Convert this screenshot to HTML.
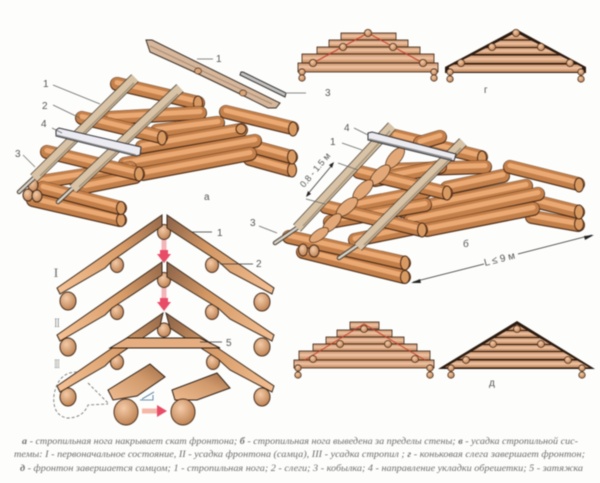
<!DOCTYPE html>
<html><head><meta charset="utf-8">
<style>
html,body{margin:0;padding:0;background:#fdfdfb;width:600px;height:483px;overflow:hidden}
svg{display:block;filter:blur(.5px)}
.L path{fill:none;stroke-linecap:round}
.L path:nth-child(1){stroke:#4a2a16;stroke-width:14}
.L path:nth-child(2){stroke:#c4804a;stroke-width:12.5;transform:translateY(-.4px)}
.L path:nth-child(3){stroke:#eba973;stroke-width:5;transform:translateY(-1.5px)}
.L ellipse{fill:#d99a62;stroke:#4a2a16;stroke-width:1}
.t{font:10px "Liberation Sans",sans-serif;fill:#555}
.ln{stroke:#666;stroke-width:.7;fill:none}
.r1{stroke:#4a4032;stroke-width:10.5;fill:none}
.r2{stroke:#d9c3a6;stroke-width:9;fill:none}
.r3{stroke:#a8967c;stroke-width:1.6;fill:none}
.th{stroke:#4a4238;stroke-width:4.5;fill:none;stroke-linecap:round}
.th2{stroke:#d8d2c6;stroke-width:2.4;fill:none;stroke-linecap:round}
.bar{fill:url(#bg);stroke:#3a2414;stroke-width:.8}
.bn{fill:url(#bg)}
.c{fill:url(#cg);stroke:#4a2e1c;stroke-width:.8}
.ct{fill:url(#cg);stroke:#4a3020;stroke-width:1}
.rL{fill:url(#rl);stroke:#3a2a1c;stroke-width:1}
.rR{fill:url(#rr);stroke:#3a2a1c;stroke-width:1}
.cap{font:italic 9px "Liberation Serif","Noto Serif CJK SC",serif;fill:#6e6e6e}
.rom{font:13px "Liberation Serif",serif;fill:#777}
</style></head><body>
<svg width="600" height="483" viewBox="0 0 600 483" xmlns="http://www.w3.org/2000/svg">
<defs>
<linearGradient id="bg" x1="0" y1="0" x2="0" y2="1"><stop offset="0" stop-color="#c48e68"/><stop offset=".45" stop-color="#f0c4a4"/><stop offset="1" stop-color="#bf8458"/></linearGradient>
<radialGradient id="cg" cx=".4" cy=".35" r=".8"><stop offset="0" stop-color="#f4cba8"/><stop offset="1" stop-color="#b47442"/></radialGradient>
<linearGradient id="rl" gradientUnits="userSpaceOnUse" x1="162" y1="215" x2="57" y2="288"><stop offset="0" stop-color="#96694a"/><stop offset=".4" stop-color="#d89c68"/><stop offset="1" stop-color="#f4c094"/></linearGradient>
<linearGradient id="rr" gradientUnits="userSpaceOnUse" x1="167" y1="215" x2="274" y2="288"><stop offset="0" stop-color="#8a6248"/><stop offset=".4" stop-color="#d49864"/><stop offset="1" stop-color="#f2be92"/></linearGradient>
<linearGradient id="p1" x1="0" y1="1" x2="1" y2="0"><stop offset="0" stop-color="#efbb90"/><stop offset=".6" stop-color="#d09a6c"/><stop offset="1" stop-color="#a06c46"/></linearGradient>
<clipPath id="tr1"><polygon points="516,32.5 449,67 449,73 582,73 582,67"/></clipPath>
<clipPath id="tr2"><polygon points="517,324.5 444,368 590,368"/></clipPath>
</defs>

<!-- Diagram a logs -->
<g class="L"><path d="M117 84L198 103"/><path d="M117 84L198 103"/><path d="M117 84L198 103"/><ellipse cx="198" cy="103" rx="4.5" ry="7"/></g>
<g class="L"><path d="M110 118L200 113"/><path d="M110 118L200 113"/><path d="M110 118L200 113"/></g>
<g class="L"><path d="M157 131L218 123"/><path d="M157 131L218 123"/><path d="M157 131L218 123"/></g>
<g class="L"><path d="M142 147L241 130"/><path d="M142 147L241 130"/><path d="M142 147L241 130"/><ellipse cx="241" cy="129" rx="5" ry="5"/></g>
<g class="L"><path d="M226 112L292 128"/><path d="M226 112L292 128"/><path d="M226 112L292 128"/><ellipse cx="293" cy="129" rx="4.5" ry="7"/></g>
<g class="L"><path d="M250 159L290 170"/><path d="M250 159L290 170"/><path d="M250 159L290 170"/><ellipse cx="292" cy="170" rx="4.5" ry="7"/></g>
<g class="L"><path d="M254 147L291 157"/><path d="M254 147L291 157"/><path d="M254 147L291 157"/><ellipse cx="292" cy="157" rx="4.5" ry="7"/></g>
<g class="L"><path d="M125 164L255 141"/><path d="M125 164L255 141"/><path d="M125 164L255 141"/></g>
<g class="L"><path d="M143 174L250 154"/><path d="M143 174L250 154"/><path d="M143 174L250 154"/></g>
<g class="L"><path d="M40 182L130 168"/><path d="M40 182L130 168"/><path d="M40 182L130 168"/></g>
<g class="L"><path d="M85 187L135 177"/><path d="M85 187L135 177"/><path d="M85 187L135 177"/></g>
<g class="L"><path d="M82 118L161 137"/><path d="M82 118L161 137"/><path d="M82 118L161 137"/><ellipse cx="162" cy="138" rx="4.5" ry="7"/></g>
<g class="L"><path d="M47 152L138 174"/><path d="M47 152L138 174"/><path d="M47 152L138 174"/><ellipse cx="139" cy="174" rx="4.5" ry="7"/></g>
<g class="L"><path d="M33 200L120 220"/><path d="M33 200L120 220"/><path d="M33 200L120 220"/><ellipse cx="121" cy="220" rx="4.5" ry="6.5"/></g>
<g class="L"><path d="M43 188L120 208"/><path d="M43 188L120 208"/><path d="M43 188L120 208"/><ellipse cx="121" cy="208" rx="4.5" ry="6.5"/></g>
<ellipse class="ct" cx="33" cy="185" rx="5" ry="6.5"/><ellipse class="ct" cx="28" cy="195" rx="5" ry="6"/><ellipse class="ct" cx="37" cy="196" rx="5" ry="6"/>

<!-- rafters a -->
<path class="th" d="M19 192L36 176"/><path class="th2" d="M19 192L36 176"/>
<path class="r1" d="M34 178L135 78"/><path class="r2" d="M34 178L135 78"/><path class="r3" d="M40 176L134 83"/>
<path class="th" d="M58 202L74 187"/><path class="th2" d="M58 202L74 187"/>
<path class="r1" d="M73 189L180 88"/><path class="r2" d="M73 189L180 88"/><path class="r3" d="M79 187L178 94"/>
<polygon points="56,130 59,128 141,147 140,155 136,156 56,136" fill="#ecebf2" stroke="#2f2f35" stroke-width="1"/>
<path d="M56 135L136 155" stroke="#888" stroke-width="1.4"/>

<!-- top detached rafter and batten -->
<polygon points="146,40 152,40 280,103 276,108 268,108 240,94 192,71 150,52" fill="#d6b79c" stroke="#3a3028" stroke-width="1"/>
<path d="M150 46L272 104" stroke="#a88a70" stroke-width="1"/>
<ellipse cx="198" cy="71" rx="3.5" ry="3" fill="#d9a578" stroke="#4a3020" stroke-width=".7"/>
<ellipse cx="243" cy="93" rx="3.5" ry="3" fill="#d9a578" stroke="#4a3020" stroke-width=".7"/>
<polygon points="241,72 243,72 286,93 285,97 240,75" fill="#c4c0c0" stroke="#333" stroke-width="1"/>

<!-- Diagram b logs -->
<g class="L"><path d="M395 136L481 157"/><path d="M395 136L481 157"/><path d="M395 136L481 157"/><ellipse cx="482" cy="158" rx="4.5" ry="7"/></g>
<g class="L"><path d="M420 143L440 137"/><path d="M420 143L440 137"/><path d="M420 143L440 137"/></g>
<g class="L"><path d="M393 170L485 167"/><path d="M393 170L485 167"/><path d="M393 170L485 167"/></g>
<g class="L"><path d="M447 188L503 176"/><path d="M447 188L503 176"/><path d="M447 188L503 176"/></g>
<g class="L"><path d="M403 211L526 186"/><path d="M403 211L526 186"/><path d="M403 211L526 186"/></g>
<g class="L"><path d="M510 167L578 184"/><path d="M510 167L578 184"/><path d="M510 167L578 184"/><ellipse cx="579" cy="185" rx="4.5" ry="7"/></g>
<g class="L"><path d="M532 217L578 225"/><path d="M532 217L578 225"/><path d="M532 217L578 225"/><ellipse cx="579" cy="224" rx="4.5" ry="6.5"/></g>
<g class="L"><path d="M538 202L578 212"/><path d="M538 202L578 212"/><path d="M538 202L578 212"/><ellipse cx="579" cy="212" rx="4.5" ry="7"/></g>
<g class="L"><path d="M410 221L538 194"/><path d="M410 221L538 194"/><path d="M410 221L538 194"/></g>
<g class="L"><path d="M427 230L533 209"/><path d="M427 230L533 209"/><path d="M427 230L533 209"/></g>
<g class="L"><path d="M375 180L440 167"/><path d="M375 180L440 167"/><path d="M375 180L440 167"/></g>
<g class="L"><path d="M358 205L425 192"/><path d="M358 205L425 192"/><path d="M358 205L425 192"/></g>
<g class="L"><path d="M330 222L425 205"/><path d="M330 222L425 205"/><path d="M330 222L425 205"/></g>
<g class="L"><path d="M355 240L415 228"/><path d="M355 240L415 228"/><path d="M355 240L415 228"/></g>
<g class="L"><path d="M359 172L446 193"/><path d="M359 172L446 193"/><path d="M359 172L446 193"/><ellipse cx="447" cy="193" rx="4.5" ry="7"/></g>
<g class="L"><path d="M326 207L421 230"/><path d="M326 207L421 230"/><path d="M326 207L421 230"/><ellipse cx="422" cy="230" rx="4.5" ry="7"/></g>
<g class="L"><path d="M303 252L404 277"/><path d="M303 252L404 277"/><path d="M303 252L404 277"/><ellipse cx="405" cy="277" rx="4.5" ry="6.5"/></g>
<g class="L"><path d="M289 237L404 263"/><path d="M289 237L404 263"/><path d="M289 237L404 263"/><ellipse cx="405" cy="263" rx="4.5" ry="7"/></g>
<ellipse class="ct" cx="303" cy="250" rx="4.5" ry="6"/><ellipse class="ct" cx="314" cy="251" rx="5" ry="6"/>
<g fill="#e3a878" stroke="#5a3a1f" stroke-width=".8">
<ellipse cx="395" cy="158" rx="13" ry="6" transform="rotate(-50 395 158)"/>
<ellipse cx="380" cy="175" rx="13" ry="6" transform="rotate(-45 380 175)"/>
<ellipse cx="363" cy="190" rx="13" ry="6" transform="rotate(-45 363 190)"/>
<ellipse cx="347" cy="207" rx="13" ry="6" transform="rotate(-40 347 207)"/>
<ellipse cx="332" cy="223" rx="12" ry="5.5" transform="rotate(-45 332 223)"/>
<ellipse cx="319" cy="235" rx="11" ry="5" transform="rotate(-35 319 235)"/>
</g>
<!-- rafters b -->
<path class="th" d="M275 243L297 228"/><path class="th2" d="M275 243L297 228"/>
<path class="r1" d="M297 228L392 126"/><path class="r2" d="M297 228L392 126"/><path class="r3" d="M303 226L390 131"/>
<path class="th" d="M339 258L358 245"/><path class="th2" d="M339 258L358 245"/>
<path class="r1" d="M358 247L463 142"/><path class="r2" d="M358 247L463 142"/><path class="r3" d="M364 245L461 148"/>
<polygon points="368,133 372,132 456,154 454,161 450,160 368,140" fill="#ecebf0" stroke="#2f2f35" stroke-width="1"/>
<path d="M369 139L452 159" stroke="#888" stroke-width="1.4"/>

<!-- labels a, b -->
<path class="ln" d="M197 59H213M285 93H306M53 85L100 104M53 105L80 118M52 128L62 133M23 155L35 167M354 128L368 135M342 143L362 150M259 226L277 233"/>
<text class="t" x="216" y="62">1</text><text class="t" x="325" y="96">3</text>
<text class="t" x="43" y="87">1</text><text class="t" x="42" y="109">2</text><text class="t" x="41" y="127">4</text><text class="t" x="15" y="157">3</text>
<text class="t" x="204" y="200">а</text><text class="t" x="344" y="131">4</text><text class="t" x="330" y="145">1</text>
<text class="t" x="250" y="226">3</text><text class="t" x="463" y="247">б</text><text class="t" x="484" y="93">г</text><text class="t" x="489" y="386">д</text>

<!-- dimensions -->
<path class="ln" d="M338 163L358 170M306 199L325 204"/>
<path d="M333 164L307 195" stroke="#333" stroke-width=".8"/>
<polygon points="334,162 329,165 332,168" fill="#222"/><polygon points="306,197 311,194 308,191" fill="#222"/>
<text class="t" transform="translate(304,188) rotate(-50)" style="font-size:9px">0.8 - 1.5 м</text>
<path d="M413 282L484 264M518 254L592 235" stroke="#333" stroke-width=".8" fill="none"/>
<polygon points="411,283 420,279 421,283" fill="#222"/><polygon points="594,235 584,236 585,240" fill="#222"/>
<text class="t" transform="translate(485,266) rotate(-14)" style="font-size:10px">L ≤ 9 м</text>

<!-- gable z -->
<rect class="bar" x="341" y="33" width="55" height="7"/><rect class="bar" x="329" y="40" width="79" height="7"/>
<rect class="bar" x="317" y="47" width="103" height="7"/><rect class="bar" x="302" y="54" width="132" height="9"/>
<rect class="bar" x="298" y="63" width="140" height="9"/>
<path d="M313 63L368 33L423 63" stroke="#c8402c" stroke-width="1" fill="none"/>
<circle class="c" cx="368" cy="33" r="3.6"/><circle class="c" cx="343" cy="47" r="3.6"/><circle class="c" cx="393" cy="47" r="3.6"/>
<circle class="c" cx="313" cy="63" r="3.6"/><circle class="c" cx="423" cy="63" r="3.6"/>
<circle class="c" cx="302" cy="72" r="3.2"/><circle class="c" cx="302" cy="78" r="3.2"/><circle class="c" cx="434" cy="72" r="3.2"/><circle class="c" cx="434" cy="78" r="3.2"/>
<!-- gable g -->
<polygon points="516,29 445,67 445,73 586,73 586,67" fill="#2a1a10"/>
<g clip-path="url(#tr1)">
<rect class="bn" x="440" y="33" width="150" height="6.5"/><rect class="bn" x="440" y="40.5" width="150" height="6.5"/>
<rect class="bn" x="440" y="48" width="150" height="6"/><rect class="bn" x="440" y="55.5" width="150" height="7.5"/>
<rect class="bn" x="440" y="64.5" width="150" height="7.5"/>
</g>
<circle class="c" cx="516" cy="33" r="3.6"/><circle class="c" cx="492" cy="47" r="3.6"/><circle class="c" cx="541" cy="47" r="3.6"/>
<circle class="c" cx="461" cy="63" r="3.6"/><circle class="c" cx="570" cy="63" r="3.6"/>
<circle class="c" cx="450" cy="72" r="3.2"/><circle class="c" cx="450" cy="79" r="3.2"/><circle class="c" cx="581" cy="72" r="3.2"/><circle class="c" cx="581" cy="79" r="3.2"/>

<!-- gable bottom left -->
<rect class="bar" x="350" y="322" width="29" height="7"/><rect class="bar" x="337" y="330" width="55" height="7"/>
<rect class="bar" x="326" y="337" width="78" height="7"/><rect class="bar" x="313" y="344" width="104" height="7"/>
<rect class="bar" x="299" y="351" width="131" height="9"/><rect class="bar" x="294" y="360" width="140" height="8"/>
<path d="M305 360L364 324L425 360" stroke="#c8402c" stroke-width="1" fill="none"/>
<circle class="c" cx="364" cy="329" r="3.5"/><circle class="c" cx="340" cy="344" r="3.5"/><circle class="c" cx="388" cy="344" r="3.5"/>
<circle class="c" cx="313" cy="359" r="3.5"/><circle class="c" cx="415" cy="359" r="3.5"/>
<circle class="c" cx="298" cy="368" r="3.2"/><circle class="c" cx="298" cy="375" r="3.2"/><circle class="c" cx="430" cy="368" r="3.2"/><circle class="c" cx="430" cy="375" r="3.2"/>
<!-- gable bottom right -->
<polygon points="517,321 438,369 595,369" fill="#2a1a10"/>
<g clip-path="url(#tr2)">
<rect class="bn" x="440" y="324" width="155" height="6"/><rect class="bn" x="440" y="331" width="155" height="6"/>
<rect class="bn" x="440" y="338" width="155" height="6"/><rect class="bn" x="440" y="345" width="155" height="6"/>
<rect class="bn" x="440" y="352" width="155" height="7"/><rect class="bn" x="440" y="360.5" width="155" height="7"/>
</g>
<circle class="c" cx="517" cy="329" r="3.5"/><circle class="c" cx="493" cy="344" r="3.5"/><circle class="c" cx="541" cy="344" r="3.5"/>
<circle class="c" cx="466" cy="360" r="3.5"/><circle class="c" cx="568" cy="360" r="3.5"/>
<circle class="c" cx="451" cy="368" r="3.2"/><circle class="c" cx="451" cy="375" r="3.2"/><circle class="c" cx="582" cy="368" r="3.2"/><circle class="c" cx="582" cy="375" r="3.2"/>

<!-- pink arrows -->
<path d="M164 240V258" stroke="#f3b4ba" stroke-width="5"/><path d="M164 288V306" stroke="#f3b4ba" stroke-width="5"/>
<polygon points="157,254 171,254 164,263" fill="#e84c66"/><rect x="160" y="250" width="8" height="6" fill="#e84c66"/>
<polygon points="157,302 171,302 164,311" fill="#e84c66"/><rect x="160" y="298" width="8" height="6" fill="#e84c66"/>

<!-- rafter I -->
<ellipse class="ct" cx="164" cy="232" rx="6.5" ry="7.5"/><ellipse class="ct" cx="117" cy="265" rx="6.5" ry="7.5"/><ellipse class="ct" cx="212" cy="265" rx="6.5" ry="7.5"/>
<ellipse class="ct" cx="68" cy="301" rx="8" ry="9"/><ellipse class="ct" cx="262" cy="302" rx="8" ry="9"/>
<polygon class="rL" points="162,215 57,288 60,294 105,268 112,261 162,226"/>
<polygon class="rR" points="167,215 274,288 272,294 230,272 218,261 167,228"/>
<!-- rafter II -->
<ellipse class="ct" cx="164" cy="280" rx="6.5" ry="7.5"/><ellipse class="ct" cx="117" cy="312" rx="6.5" ry="7.5"/><ellipse class="ct" cx="212" cy="312" rx="6.5" ry="7.5"/>
<ellipse class="ct" cx="68" cy="347" rx="8" ry="9"/><ellipse class="ct" cx="262" cy="347" rx="8" ry="9"/>
<g transform="translate(0,47)"><polygon class="rL" points="162,215 57,288 60,294 105,268 112,261 162,228"/>
<polygon class="rR" points="167,215 274,288 272,294 230,272 218,261 167,230"/></g>
<!-- rafter III -->
<ellipse class="ct" cx="164" cy="330" rx="6.5" ry="7"/><ellipse class="ct" cx="117" cy="362" rx="6.5" ry="7.5"/><ellipse class="ct" cx="213" cy="362" rx="6.5" ry="7.5"/>
<ellipse class="ct" cx="68" cy="397" rx="8" ry="9"/><ellipse class="ct" cx="262" cy="397" rx="8" ry="9"/>
<g transform="translate(0,98)"><polygon class="rL" points="163,215 57,288 60,294 105,268 112,261 160,228"/>
<polygon class="rR" points="166,215 274,288 272,294 230,272 218,261 170,230"/></g>
<polygon points="127,338 200,338 220,348 110,348" fill="#e6ae80" stroke="#2e2016" stroke-width="1"/>

<!-- detail -->
<path d="M77 372Q58 372 54 395Q52 415 67 418Q83 418 88 405L108 404M88 383L108 403" fill="none" stroke="#7a7a7a" stroke-width=".9" stroke-dasharray="3 2"/>
<polygon points="108,390 150,364 165,377 137,396 113,400" fill="url(#p1)" stroke="#2e2016" stroke-width="1"/>
<polygon points="172,390 217,373 230,388 197,400 175,400" fill="url(#p1)" stroke="#2e2016" stroke-width="1"/>
<ellipse class="ct" cx="126" cy="412" rx="12" ry="13"/><ellipse class="ct" cx="183" cy="412" rx="12" ry="13"/>
<path d="M140 400H153V395M142 399L154 392" stroke="#3f6f99" stroke-width=".8" fill="none"/>
<path d="M142 411H158" stroke="#f4b8a8" stroke-width="5"/>
<polygon points="157,405 167,411 157,417" fill="#e84c66"/>

<!-- labels rafters -->
<path class="ln" d="M192 232H212M220 264H253M200 342H222" style="stroke:#333"/>
<text class="t" x="217" y="236">1</text><text class="t" x="256" y="267">2</text><text class="t" x="226" y="346">5</text>
<text class="rom" x="53.5" y="277" textLength="5" lengthAdjust="spacingAndGlyphs">I</text>
<text class="rom" x="54.5" y="327" textLength="5" lengthAdjust="spacingAndGlyphs">II</text>
<text class="rom" x="54.5" y="368" textLength="5" lengthAdjust="spacingAndGlyphs">III</text>

<!-- caption -->
<text class="cap" x="22" y="444" textLength="556" lengthAdjust="spacingAndGlyphs"><tspan font-weight="bold">а</tspan> - стропильная нога накрывает скат фронтона; <tspan font-weight="bold">б</tspan> - стропильная нога выведена за пределы стены; <tspan font-weight="bold">в</tspan> - усадка стропильной сис-</text>
<text class="cap" x="14" y="457" textLength="571" lengthAdjust="spacingAndGlyphs">темы: I - первоначальное состояние, II - усадка фронтона (самца), III - усадка стропил ; <tspan font-weight="bold">г</tspan> - коньковая слега завершает фронтон;</text>
<text class="cap" x="20" y="471" textLength="563" lengthAdjust="spacingAndGlyphs"><tspan font-weight="bold">д</tspan> - фронтон завершается самцом; 1 - стропильная нога; 2 - слеги; 3 - кобылка; 4 - направление укладки обрешетки; 5 - затяжка</text>
</svg>
</body></html>
